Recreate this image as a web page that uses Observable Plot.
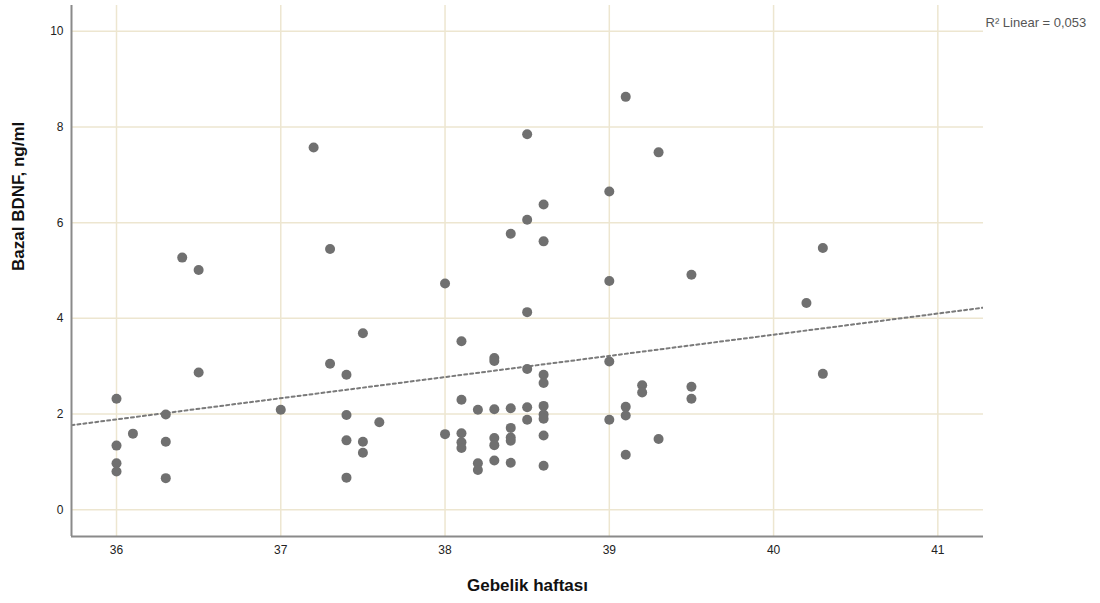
<!DOCTYPE html>
<html>
<head>
<meta charset="utf-8">
<script src="https://cdn.jsdelivr.net/npm/d3@7"></script>
<script src="https://cdn.jsdelivr.net/npm/@observablehq/plot@0.6"></script>
<style>
  html, body { margin: 0; padding: 0; background: #fff; }
  #chart svg { display: block; }
</style>
</head>
<body>
<div id="chart"></div>
<script>
// Gestational week (x) and basal BDNF ng/ml (y)
const weeks = [
  36, 36, 36, 36,
  36.1,
  36.3, 36.3, 36.3,
  36.4,
  36.5, 36.5,
  37,
  37.2,
  37.3, 37.3,
  37.4, 37.4, 37.4, 37.4,
  37.5, 37.5, 37.5,
  37.6,
  38, 38,
  38.1, 38.1, 38.1, 38.1, 38.1,
  38.2, 38.2, 38.2,
  38.3, 38.3, 38.3, 38.3, 38.3, 38.3,
  38.4, 38.4, 38.4, 38.4, 38.4, 38.4,
  38.5, 38.5, 38.5, 38.5, 38.5, 38.5,
  38.6, 38.6, 38.6, 38.6, 38.6, 38.6, 38.6, 38.6, 38.6,
  39, 39, 39, 39,
  39.1, 39.1, 39.1, 39.1,
  39.2, 39.2,
  39.3, 39.3,
  39.5, 39.5, 39.5,
  40.2,
  40.3, 40.3
];
const bdnf = [
  2.32, 1.34, 0.97, 0.80,
  1.59,
  1.99, 1.42, 0.66,
  5.27,
  5.01, 2.87,
  2.09,
  7.57,
  5.45, 3.05,
  2.82, 1.98, 1.45, 0.67,
  3.69, 1.42, 1.19,
  1.83,
  4.73, 1.58,
  3.52, 2.30, 1.60, 1.41, 1.29,
  2.09, 0.97, 0.83,
  3.17, 3.11, 2.10, 1.50, 1.35, 1.03,
  5.77, 2.12, 1.71, 1.51, 1.44, 0.98,
  7.85, 6.06, 4.13, 2.94, 2.14, 1.88,
  6.38, 5.61, 2.82, 2.65, 2.17, 1.99, 1.90, 1.55, 0.92,
  6.65, 4.78, 3.10, 1.88,
  8.63, 2.15, 1.97, 1.15,
  2.60, 2.45,
  7.47, 1.48,
  4.91, 2.57, 2.32,
  4.32,
  5.47, 2.84
];
const xTicks = [36, 37, 38, 39, 40, 41];
const yTicks = [0, 2, 4, 6, 8, 10];
const xDomain = [35.726, 41.278];
const yDomain = [-0.56, 10.54];
const r2Label = "R\u00B2 Linear = 0,053";
const xTitle = "Gebelik haftası";
const yTitle = "Bazal BDNF, ng/ml";

const data = weeks.map((w, i) => ({week: w, bdnf: bdnf[i]}));

// least-squares fit, drawn across the whole x domain (like the SPSS fit line)
const mx = d3.mean(weeks), my = d3.mean(bdnf);
const slope = d3.sum(weeks, (w, i) => (w - mx) * (bdnf[i] - my)) / d3.sum(weeks, w => (w - mx) ** 2);
const intercept = my - slope * mx;
const fit = xDomain.map(x => ({x, y: intercept + slope * x}));

const font = "'Liberation Sans', Arial, sans-serif";

const chart = Plot.plot({
  width: 1100,
  height: 603,
  marginLeft: 71,
  marginRight: 117,
  marginTop: 5,
  marginBottom: 67,
  style: {fontFamily: font, background: "#fff", overflow: "visible"},
  x: {domain: xDomain, ticks: xTicks},
  y: {domain: yDomain, ticks: yTicks},
  marks: [
    Plot.gridX(xTicks, {stroke: "#ede6d0", strokeOpacity: 1, strokeWidth: 1.5}),
    Plot.gridY(yTicks, {stroke: "#ede6d0", strokeOpacity: 1, strokeWidth: 1.5}),
    Plot.axisX(xTicks, {tickSize: 0, tickPadding: 9, fontSize: 12, fill: "#222", label: null, tickFormat: d3.format("d")}),
    Plot.axisY(yTicks, {tickSize: 0, tickPadding: 8, fontSize: 12, fill: "#222", label: null, tickFormat: d3.format("d")}),
    Plot.line(fit, {x: "x", y: "y", stroke: "#7a7a7a", strokeWidth: 2, strokeDasharray: "3,3", clip: true}),
    Plot.ruleX([xDomain[0]], {stroke: "#8a8a8a", strokeWidth: 2}),
    Plot.ruleY([yDomain[0]], {stroke: "#8a8a8a", strokeWidth: 2}),
    Plot.dot(data, {x: "week", y: "bdnf", r: 5, fill: "#707070", stroke: "none"}),
    Plot.text([r2Label], {frameAnchor: "top-right", text: d => d, textAnchor: "start", dx: 2, dy: 12, fontSize: 13, fill: "#555"}),
    Plot.text([xTitle], {frameAnchor: "bottom", text: d => d, dy: 54, fontSize: 17, fontWeight: "bold", fill: "#111"}),
    Plot.text([yTitle], {frameAnchor: "left", text: d => d, rotate: -90, dx: -53, fontSize: 17, fontWeight: "bold", fill: "#111"})
  ]
});
document.getElementById("chart").appendChild(chart);
</script>
</body>
</html>
